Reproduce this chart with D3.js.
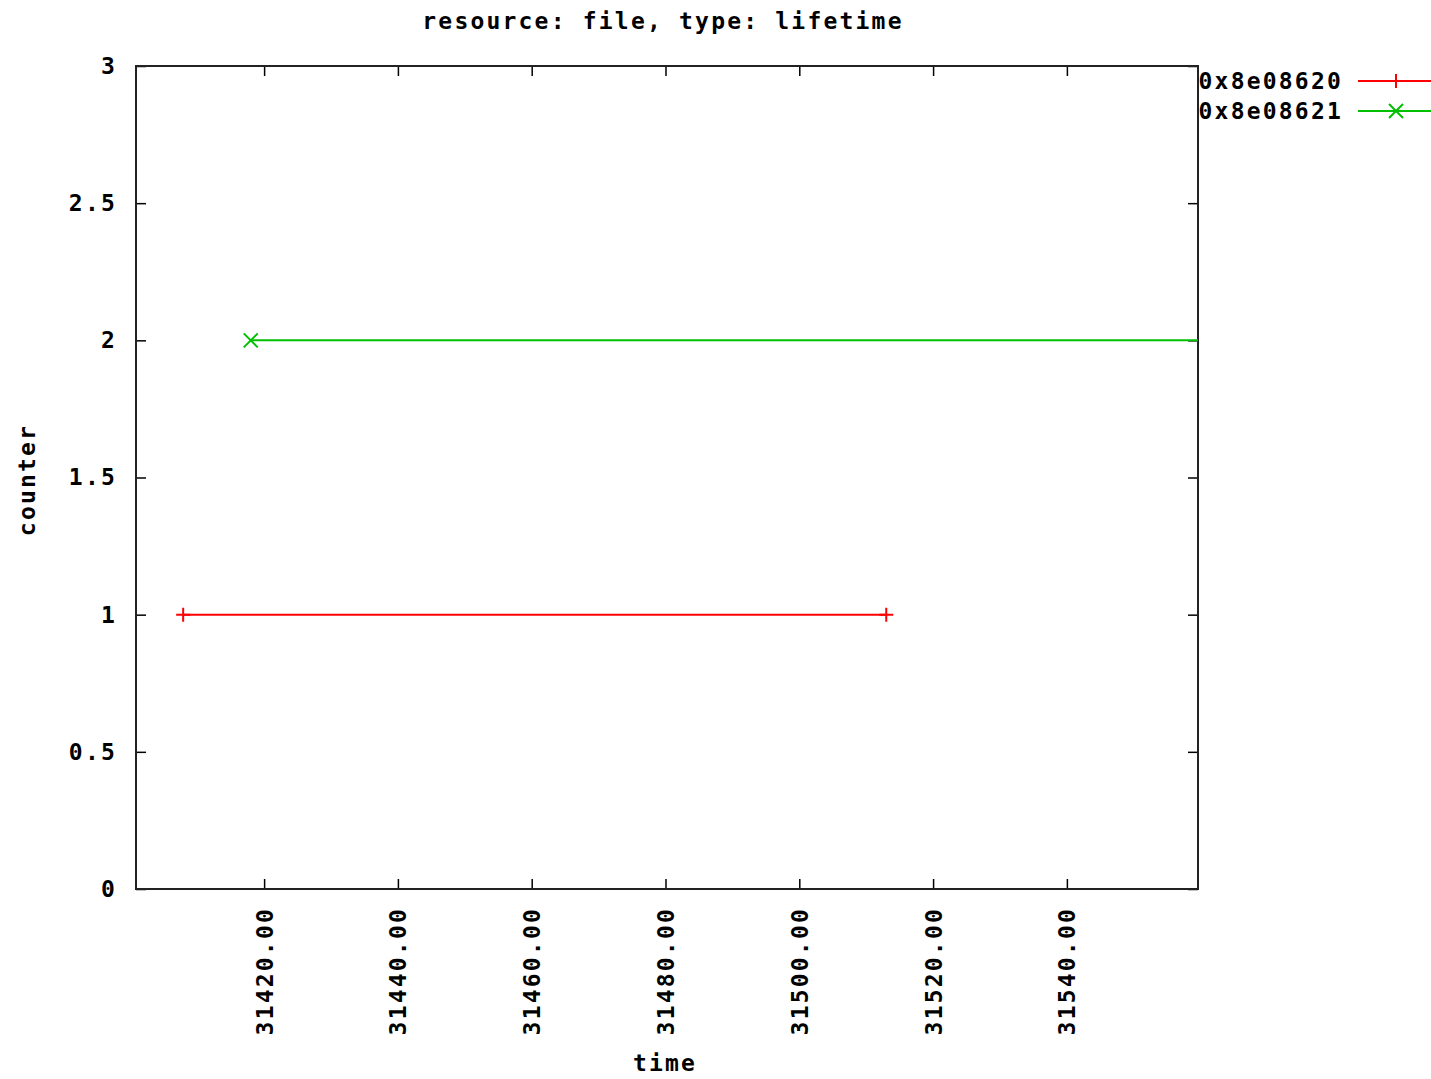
<!DOCTYPE html>
<html>
<head>
<meta charset="utf-8">
<script src="https://cdn.jsdelivr.net/npm/d3@7"></script>
<style>
  body { margin: 0; background: #fff; }
  svg text { font-family: "DejaVu Sans Mono", monospace; font-weight: bold; font-size: 23px; letter-spacing: 2.2px; fill: #000; }
</style>
</head>
<body>
<svg width="1431" height="1079"></svg>
<script>
const seriesNames = ["0x8e08620", "0x8e08621"]
const seriesColors = ["#ff0000", "#00c000"]
const redTimes = [31407.9, 31513.0]
const redCounts = [1, 1]
const greenTimes = [31418.0, 31562]
const greenCounts = [2, 2]
const xTicks = [31420, 31440, 31460, 31480, 31500, 31520, 31540]
const yTicks = [0, 0.5, 1, 1.5, 2, 2.5, 3]

const plotL = 136, plotR = 1198, plotT = 66, plotB = 889

const svg = d3.select("svg")

const xScale = d3.scaleLinear().domain([31400.85, 31559.6]).range([plotL, plotR])
const yScale = d3.scaleLinear().domain([0, 3]).range([plotB, plotT])

const series = [
  {name: seriesNames[0], color: seriesColors[0], shape: "plus",
    points: redTimes.map((t, i) => ({t: t, c: redCounts[i]}))},
  {name: seriesNames[1], color: seriesColors[1], shape: "cross",
    points: greenTimes.map((t, i) => ({t: t, c: greenCounts[i]}))}
]

// axes, ticks pointing inward
const xAxis = d3.axisBottom(xScale).tickValues(xTicks).tickSize(-10).tickFormat(d3.format(".2f"))
const xAxisTop = d3.axisTop(xScale).tickValues(xTicks).tickSize(-10).tickFormat("")
const yAxis = d3.axisLeft(yScale).tickValues(yTicks).tickSize(-10).tickPadding(19).tickFormat(d3.format(""))
const yAxisRight = d3.axisRight(yScale).tickValues(yTicks).tickSize(-10).tickFormat("")

const xg = svg.append("g").attr("transform", `translate(0,${plotB})`).call(xAxis)
xg.selectAll("text")
  .attr("transform", "rotate(-90)")
  .attr("x", -18).attr("y", 0).attr("dy", "0.35em")
  .style("text-anchor", "end")

svg.append("g").attr("transform", `translate(0,${plotT})`).call(xAxisTop)
svg.append("g").attr("transform", `translate(${plotL},0)`).call(yAxis)
svg.append("g").attr("transform", `translate(${plotR},0)`).call(yAxisRight)

svg.selectAll(".domain").remove()
svg.selectAll(".tick line").attr("stroke", "#000").attr("stroke-width", 1.5)
svg.selectAll(".tick text").style("font-size", "23px")

svg.append("rect")
  .attr("x", plotL).attr("y", plotT)
  .attr("width", plotR - plotL).attr("height", plotB - plotT)
  .attr("fill", "none").attr("stroke", "#222").attr("stroke-width", 2)

svg.append("clipPath").attr("id", "plot")
  .append("rect").attr("x", plotL).attr("y", plotT)
  .attr("width", plotR - plotL).attr("height", plotB - plotT)

const line = d3.line().x(d => xScale(d.t)).y(d => yScale(d.c))

function marker(g, shape, x, y, color) {
  const s = 7
  const p = shape === "plus"
    ? `M${x - s},${y}H${x + s}M${x},${y - s}V${y + s}`
    : `M${x - s},${y - s}L${x + s},${y + s}M${x - s},${y + s}L${x + s},${y - s}`
  g.append("path").attr("d", p).attr("stroke", color).attr("stroke-width", 2).attr("fill", "none")
}

const plotG = svg.append("g").attr("clip-path", "url(#plot)")
series.forEach(s => {
  plotG.append("path").datum(s.points)
    .attr("d", line).attr("fill", "none")
    .attr("stroke", s.color).attr("stroke-width", 2)
  s.points.filter(p => xScale(p.t) <= plotR).forEach(p =>
    marker(plotG, s.shape, xScale(p.t), yScale(p.c), s.color))
})

// legend
series.forEach((s, i) => {
  const y = 81 + i * 30
  svg.append("text").attr("x", 1343).attr("y", y).attr("dy", "0.35em")
    .attr("text-anchor", "end").text(s.name)
  svg.append("line").attr("x1", 1358).attr("x2", 1431).attr("y1", y).attr("y2", y)
    .attr("stroke", s.color).attr("stroke-width", 2)
  marker(svg, s.shape, 1396, y, s.color)
})

// titles
svg.append("text").attr("x", 663).attr("y", 21).attr("dy", "0.35em")
  .attr("text-anchor", "middle").text("resource: file, type: lifetime")
svg.append("text").attr("x", 665).attr("y", 1063).attr("dy", "0.35em")
  .attr("text-anchor", "middle").text("time")
svg.append("text").attr("transform", "translate(27,480) rotate(-90)")
  .attr("dy", "0.35em").attr("text-anchor", "middle").text("counter")
</script>
</body>
</html>
